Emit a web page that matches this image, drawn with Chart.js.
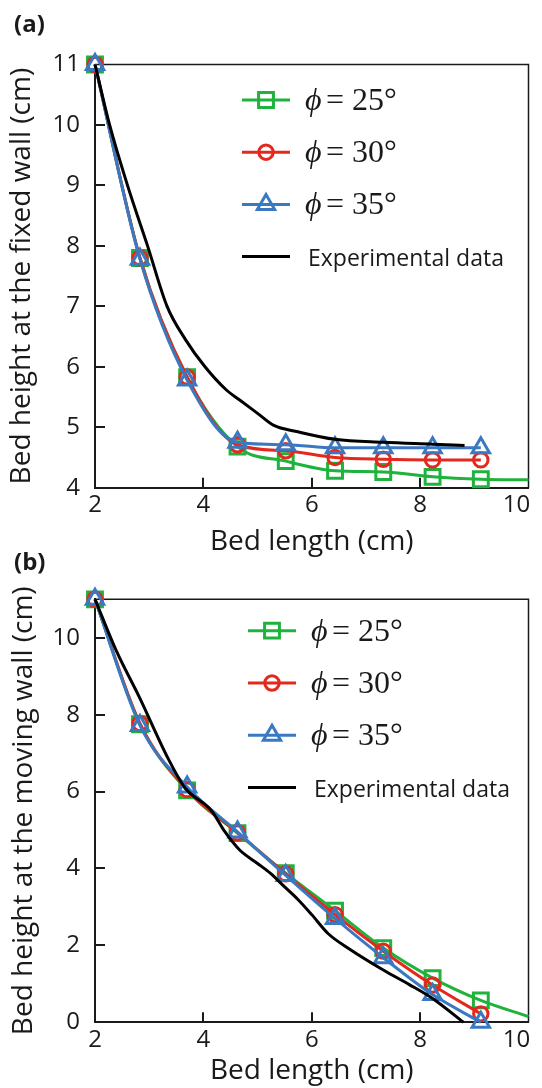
<!DOCTYPE html>
<html>
<head>
<meta charset="utf-8">
<script src="https://cdn.jsdelivr.net/npm/chart.js@4.4.1/dist/chart.umd.min.js"></script>
<style>
  html, body { margin: 0; padding: 0; background: #fff; overflow: hidden; }
  #wrap { position: relative; width: 542px; height: 1088px; }
  canvas { position: absolute; left: 0; }
  #fixedWall { top: 0; }
  #movingWall { top: 548px; }
</style>
</head>
<body>
<div id="wrap">
  <canvas id="fixedWall" width="542" height="562"></canvas>
  <canvas id="movingWall" width="542" height="540"></canvas>
</div>
<script>
// bed lengths where the simulation results were sampled (cm)
const simLength = [2, 2.83, 3.7, 4.63, 5.52, 6.43, 7.32, 8.23, 9.12];
const frictionAngles = [25, 30, 35];

// (a) bed height at the fixed wall (cm)
const fixed25 = [11, 7.8, 5.83, 4.68, 4.44, 4.28, 4.26, 4.18, 4.14];
const fixed30 = [11, 7.8, 5.83, 4.71, 4.61, 4.5, 4.47, 4.46, 4.46];
const fixed35 = [11, 7.78, 5.78, 4.75, 4.71, 4.66, 4.66, 4.66, 4.66];
const fixed25Tail = [10, 4.13];
const fixedExpX = [2, 2.27, 2.6, 2.97, 3.33, 3.67, 4.03, 4.42, 4.67, 5.0, 5.3, 5.72, 6.43, 7.32, 8.23, 8.82];
const fixedExpY = [11, 10, 9, 8, 7, 6.45, 6.0, 5.62, 5.45, 5.23, 5.03, 4.93, 4.8, 4.75, 4.72, 4.7];

// (b) bed height at the moving wall (cm)
const moving25 = [11, 7.75, 6.03, 4.92, 3.88, 2.9, 1.93, 1.15, 0.57];
const moving30 = [11, 7.77, 6.05, 4.93, 3.86, 2.8, 1.85, 0.97, 0.22];
const moving35 = [11, 7.72, 6.12, 4.95, 3.82, 2.7, 1.68, 0.72, 0.0];
const moving25Tail = [10, 0.15];
const movingExpX = [2, 2.39, 2.82, 3.36, 3.66, 4.15, 4.4, 4.67, 5.0, 5.24, 5.5, 5.74, 6.0, 6.3, 6.68, 7.32, 7.8, 8.23, 8.8];
const movingExpY = [11, 9.67, 8.45, 6.83, 6.1, 5.5, 4.95, 4.48, 4.13, 3.87, 3.52, 3.2, 2.8, 2.31, 1.92, 1.36, 0.98, 0.62, 0];

const xTicks = [2, 4, 6, 8, 10];

const GREEN = '#1fb23c';
const RED = '#e3291d';
const BLUE = '#3a79c1';
const INK = '#1a1a1a';

Chart.defaults.font.family = "'Open Sans', sans-serif";
Chart.defaults.color = INK;

const toPoints = (xs, ys) => xs.map((x, i) => ({x: x, y: ys[i]}));

function simSet(angle, ys, color, style, radius, order, tail) {
  const pts = toPoints(simLength, ys);
  if (tail) pts.push({x: tail[0], y: tail[1]});
  return {
    label: '\u03d5 = ' + angle + '\u00b0',
    data: pts,
    borderColor: color,
    borderWidth: 3,
    pointStyle: style,
    pointRadius: pts.map((p, i) => i < simLength.length ? radius : 0),
    pointBorderColor: color,
    pointBorderWidth: 3,
    pointBackgroundColor: 'rgba(0,0,0,0)',
    cubicInterpolationMode: 'monotone',
    clip: false,
    order: order
  };
}

function expSet(xs, ys) {
  return {
    label: 'Experimental data',
    data: toPoints(xs, ys),
    borderColor: '#000',
    borderWidth: 3,
    pointRadius: 0,
    pointStyle: false,
    cubicInterpolationMode: 'monotone',
    clip: false,
    order: 0
  };
}

// closed frame, inward tick marks, legend and panel letter
const framePlugin = {
  id: 'frame',
  beforeDatasetsDraw(chart) {
    const {ctx, chartArea: a, scales: {x, y}} = chart;
    ctx.save();
    ctx.strokeStyle = INK;
    ctx.lineWidth = 1.5;
    ctx.beginPath();
    ctx.moveTo(a.left, a.top);
    ctx.lineTo(a.right, a.top);
    ctx.lineTo(a.right, a.bottom);
    ctx.stroke();
    ctx.lineWidth = 2;
    ctx.beginPath();
    x.ticks.forEach(t => {
      if (t.value <= x.min || t.value >= x.max) return;
      const px = Math.round(x.getPixelForValue(t.value));
      ctx.moveTo(px, a.bottom);
      ctx.lineTo(px, a.bottom - 10);
    });
    y.ticks.forEach(t => {
      if (t.value <= y.min || t.value >= y.max) return;
      const py = Math.round(y.getPixelForValue(t.value));
      ctx.moveTo(a.left, py);
      ctx.lineTo(a.left + 10, py);
    });
    ctx.stroke();
    ctx.restore();
  },
  afterDraw(chart, args, opts) {
    const ctx = chart.ctx;
    ctx.save();
    ctx.fillStyle = INK;
    ctx.font = "bold 24px 'Open Sans', sans-serif";
    ctx.textBaseline = 'alphabetic';
    ctx.fillText(opts.letter, 14, opts.letterY);

    chart.data.datasets.forEach((ds, i) => {
      const y = opts.top + i * opts.gap;
      const x0 = opts.x;
      ctx.strokeStyle = ds.borderColor;
      ctx.lineWidth = 3;
      ctx.beginPath();
      ctx.moveTo(x0, y);
      ctx.lineTo(x0 + 48, y);
      ctx.stroke();
      if (ds.pointStyle) {
        ctx.fillStyle = 'rgba(0,0,0,0)';
        ctx.lineWidth = ds.pointBorderWidth;
        Chart.helpers.drawPoint(ctx, {
          pointStyle: ds.pointStyle,
          rotation: 0,
          radius: ds.pointRadius[0],
          borderWidth: ds.pointBorderWidth
        }, x0 + 24, y);
      }
      ctx.fillStyle = INK;
      if (ds.label.charAt(0) === '\u03d5') {
        const parts = ds.label.split(' ');
        ctx.font = "italic 32px 'Liberation Serif', serif";
        ctx.fillText(parts[0], x0 + 63, y + 10);
        ctx.font = "32px 'Liberation Serif', serif";
        ctx.fillText(parts[1], x0 + 84, y + 10);
        ctx.fillText(parts[2], x0 + 110, y + 10);
      } else {
        ctx.font = "23px 'Open Sans', sans-serif";
        ctx.fillText(ds.label, x0 + 66, y + 9);
      }
    });
    ctx.restore();
  }
};

function makeChart(id, p) {
  return new Chart(document.getElementById(id), {
    type: 'line',
    data: {datasets: p.datasets},
    options: {
      responsive: false,
      animation: false,
      layout: {padding: {top: p.plotTop, right: 6, left: 0, bottom: 0}},
      plugins: {
        legend: {display: false},
        tooltip: {enabled: false},
        frame: {letter: p.letter, letterY: p.letterY, x: p.legendX, top: p.legendTop, gap: p.legendGap}
      },
      scales: {
        x: {
          type: 'linear',
          min: 2,
          max: 10,
          afterBuildTicks: s => { s.ticks = xTicks.map(v => ({value: v})); },
          ticks: {
            font: {size: 24},
            padding: 3,
            maxRotation: 0,
            callback: v => v === 10 ? '10\u2002\u2002' : String(v)
          },
          grid: {display: false, drawTicks: false},
          border: {display: true, color: INK, width: 2},
          title: {display: true, text: 'Bed length (cm)', font: {size: 28}, padding: {top: 0, bottom: p.xTitlePad}},
          afterFit: s => { s.height = p.xAxisHeight; s.paddingLeft = 0; s.paddingRight = 0; }
        },
        y: {
          min: p.yMin,
          max: 11,
          ticks: {stepSize: p.yStep, includeBounds: false, font: {size: 24}, padding: 15},
          grid: {display: false, drawTicks: false},
          border: {display: true, color: INK, width: 2},
          title: {display: true, text: p.yTitle, font: {size: 28}, padding: {top: p.yTitlePad, bottom: 0}},
          afterFit: s => { s.width = 95; }
        }
      }
    },
    plugins: [framePlugin]
  });
}

makeChart('fixedWall', {
  letter: '(a)', letterY: 32,
  plotTop: 64.5, xAxisHeight: 74.3, xTitlePad: 3.4,
  yMin: 4, yStep: 1, yTitle: 'Bed height at the fixed wall (cm)', yTitlePad: 5.3,
  legendX: 242, legendTop: 100, legendGap: 52.2,
  datasets: [
    simSet(frictionAngles[0], fixed25, GREEN, 'rect', 10.5, 3, fixed25Tail),
    simSet(frictionAngles[1], fixed30, RED, 'circle', 7.2, 2),
    simSet(frictionAngles[2], fixed35, BLUE, 'triangle', 10, 1),
    expSet(fixedExpX, fixedExpY)
  ]
});

makeChart('movingWall', {
  letter: '(b)', letterY: 22,
  plotTop: 51.3, xAxisHeight: 65.7, xTitlePad: 0.4,
  yMin: 0, yStep: 2, yTitle: 'Bed height at the moving wall (cm)', yTitlePad: 7.3,
  legendX: 248, legendTop: 82.7, legendGap: 52.3,
  datasets: [
    simSet(frictionAngles[0], moving25, GREEN, 'rect', 10.5, 3, moving25Tail),
    simSet(frictionAngles[1], moving30, RED, 'circle', 7.2, 2),
    simSet(frictionAngles[2], moving35, BLUE, 'triangle', 10, 1),
    expSet(movingExpX, movingExpY)
  ]
});
</script>
</body>
</html>
